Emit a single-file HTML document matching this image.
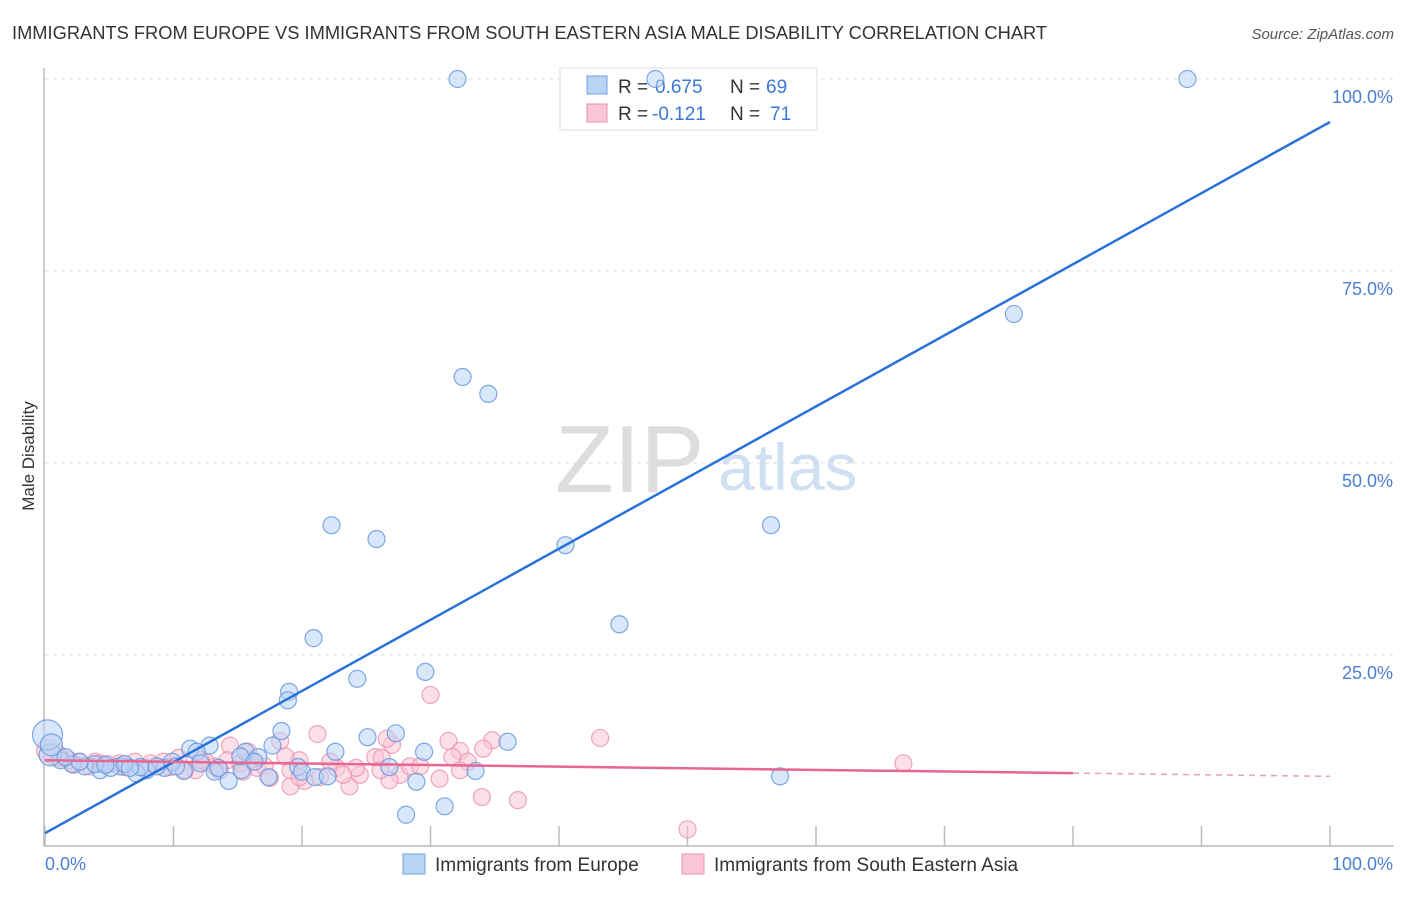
<!DOCTYPE html>
<html><head><meta charset="utf-8"><style>
body{margin:0;background:#fff;font-family:"Liberation Sans",sans-serif;}
svg text{font-family:"Liberation Sans",sans-serif;}
</style></head><body>
<svg id="chart" width="1406" height="892">
<text x="12" y="39" font-size="18.3" fill="#333">IMMIGRANTS FROM EUROPE VS IMMIGRANTS FROM SOUTH EASTERN ASIA MALE DISABILITY CORRELATION CHART</text>
<text x="1394" y="39" font-size="15" fill="#555" font-style="italic" text-anchor="end">Source: ZipAtlas.com</text>
<text x="34" y="456" font-size="17" fill="#333" transform="rotate(-90 34 456)" text-anchor="middle">Male Disability</text>
<text x="555" y="492" font-size="96" fill="#ddd" font-family="Liberation Serif">ZIP</text>
<text x="718" y="490" font-size="66" fill="#cfe0f3">atlas</text>
<g id="grid"></g>
<g>
<rect x="560" y="68" width="257" height="62" fill="#fff" stroke="#ddd"/>
<rect x="587" y="76" width="20" height="18" fill="#b9d3f5" stroke="#6f9fe0"/>
<rect x="587" y="104" width="20" height="18" fill="#f9c7d6" stroke="#ec8fae"/>
<text x="618" y="93" font-size="19" fill="#333">R =</text>
<text x="655" y="93" font-size="19" fill="#3a78d6">0.675</text>
<text x="730" y="93" font-size="19" fill="#333">N =</text>
<text x="766" y="93" font-size="19" fill="#3a78d6">69</text>
<text x="618" y="120" font-size="19" fill="#333">R =</text>
<text x="652" y="120" font-size="19" fill="#3a78d6">-0.121</text>
<text x="730" y="120" font-size="19" fill="#333">N =</text>
<text x="770" y="120" font-size="19" fill="#3a78d6">71</text>
</g>
<g id="pts"></g><g id="lines"></g>
<g>
<rect x="403" y="854" width="22" height="20" fill="#b9d3f5" stroke="#6f9fe0"/>
<text x="435" y="871" font-size="19" fill="#333">Immigrants from Europe</text>
<rect x="682" y="854" width="22" height="20" fill="#f9c7d6" stroke="#ec8fae"/>
<text x="714" y="871" font-size="19" fill="#333">Immigrants from South Eastern Asia</text>
</g>
<text x="45" y="870" font-size="18" fill="#4a7fd4">0.0%</text>
<text x="1393" y="870" font-size="18" fill="#4a7fd4" text-anchor="end">100.0%</text>
</svg>
<script>
const yTicks=[25,50,75,100];
const yTickLabels=["25.0%","50.0%","75.0%","100.0%"];
const xTicks=[0,10,20,30,40,50,60,70,80,90,100];
const europePx=[[457,79],[655,79],[1188,79],[1014,314],[462,377],[488,394],[332,525],[377,539],[771,525],[566,545],[620,624],[313,638],[425,672],[357,679],[289,692],[288,700],[281,731],[396,733],[367,737],[336,752],[507,742],[424,752],[210,746],[190,749],[272,746],[197,752],[245,752],[258,757],[476,771],[389,767],[298,767],[302,772],[315,777],[328,776],[268,777],[241,770],[229,781],[215,772],[218,768],[184,771],[165,768],[147,770],[136,773],[157,766],[120,766],[100,770],[110,768],[85,766],[72,764],[60,760],[50,755],[47,735],[52,745],[416,782],[780,776],[406,815],[445,806],[240,756],[172,762],[125,764],[95,764],[80,762],[65,757],[255,762],[200,763],[176,766],[140,767],[130,768],[105,765]];
const seaPx=[[430,695],[600,738],[903,763],[317,734],[392,745],[448,741],[460,751],[492,740],[483,749],[387,739],[375,757],[280,741],[230,746],[248,752],[178,758],[440,779],[482,797],[518,800],[687,829],[350,786],[320,777],[305,781],[290,786],[360,775],[337,768],[356,768],[400,775],[410,766],[468,762],[420,766],[257,768],[265,766],[215,766],[195,770],[205,762],[185,770],[163,762],[150,763],[135,762],[120,763],[108,764],[95,762],[80,762],[70,760],[60,758],[55,755],[48,750],[227,760],[240,763],[290,770],[300,760],[330,762],[382,758],[452,757],[390,780],[343,775],[270,778],[243,772],[220,770],[170,767],[145,768],[125,767],[90,766],[75,765],[300,777],[380,770],[460,770],[250,760],[285,756],[200,760],[100,763]];
const europeX=europePx.map(p=>+((p[0]-45)/12.85).toFixed(1));
const europeY=europePx.map(p=>+((847-p[1])/7.68).toFixed(1));
const seaX=seaPx.map(p=>+((p[0]-45)/12.85).toFixed(1));
const seaY=seaPx.map(p=>+((847-p[1])/7.68).toFixed(1));
const europeTrend=[1.8,94.4];
const seaTrend=[11.3,9.2];
const X=v=>45+v*12.85, Y=v=>847-v*7.68;
const NS="http://www.w3.org/2000/svg";
function mk(tag,attrs,parent){const e=document.createElementNS(NS,tag);for(const k in attrs)e.setAttribute(k,attrs[k]);parent.appendChild(e);return e;}
const gridG=document.getElementById('grid');
yTicks.forEach((t,i)=>{
 const l=mk('line',{x1:45,x2:1394,y1:Y(t),y2:Y(t),stroke:'#ddd','stroke-dasharray':'4,4'},gridG);
 
 
 const tx=mk('text',{x:1393,y:Y(t)+24,'font-size':18,fill:'#4a7fd4','text-anchor':'end'},gridG);
 tx.textContent=yTickLabels[i];
 
 
});
const topGrid=mk('line',{x1:45,x2:1394,y1:Y(100),y2:Y(100),stroke:'#ddd','stroke-dasharray':'4,4'},gridG);


const yAxisLine=mk('line',{x1:44,x2:44,y1:68,y2:846,stroke:'#bbb','stroke-width':1.5},gridG);


const xAxisLine=mk('line',{x1:44,x2:1394,y1:846,y2:846,stroke:'#bbb','stroke-width':1.5},gridG);


xTicks.forEach(t=>{
 const l=mk('line',{x1:X(t),x2:X(t),y1:826,y2:846,stroke:'#bbb','stroke-width':1.5},gridG);
 
 
});
const ptsG=document.getElementById('pts');
function drawPts(xs,ys,fill,stroke,name){
 xs.forEach((x,i)=>{
  const r=(x<0.5&&ys[i]>14)?15:(x<1?11:8.5);
  const c=mk('circle',{cx:X(x),cy:Y(ys[i]),r:r,fill:fill,'fill-opacity':0.55,stroke:stroke,'stroke-opacity':0.8,'stroke-width':1.2},ptsG);
  
  
 });
}
drawPts(seaX,seaY,'#f9c7d6','#ec8fae','sea-point');
drawPts(europeX,europeY,'#b9d3f5','#5f93dc','europe-point');
const linesG=document.getElementById('lines');
const bl=mk('line',{x1:X(0),y1:Y(europeTrend[0]),x2:X(100),y2:Y(europeTrend[1]),stroke:'#2a72d8','stroke-width':2.5},linesG);


const solidEnd=80, ym=seaTrend[0]+(seaTrend[1]-seaTrend[0])*solidEnd/100;
const pl=mk('line',{x1:X(0),y1:Y(seaTrend[0]),x2:X(solidEnd),y2:Y(ym),stroke:'#e8668f','stroke-width':2.5},linesG);


const pd=mk('line',{x1:X(solidEnd),y1:Y(ym),x2:X(100),y2:Y(seaTrend[1]),stroke:'#e8a0b8','stroke-width':1.5,'stroke-dasharray':'6,5'},linesG);


</script>
</body></html>
